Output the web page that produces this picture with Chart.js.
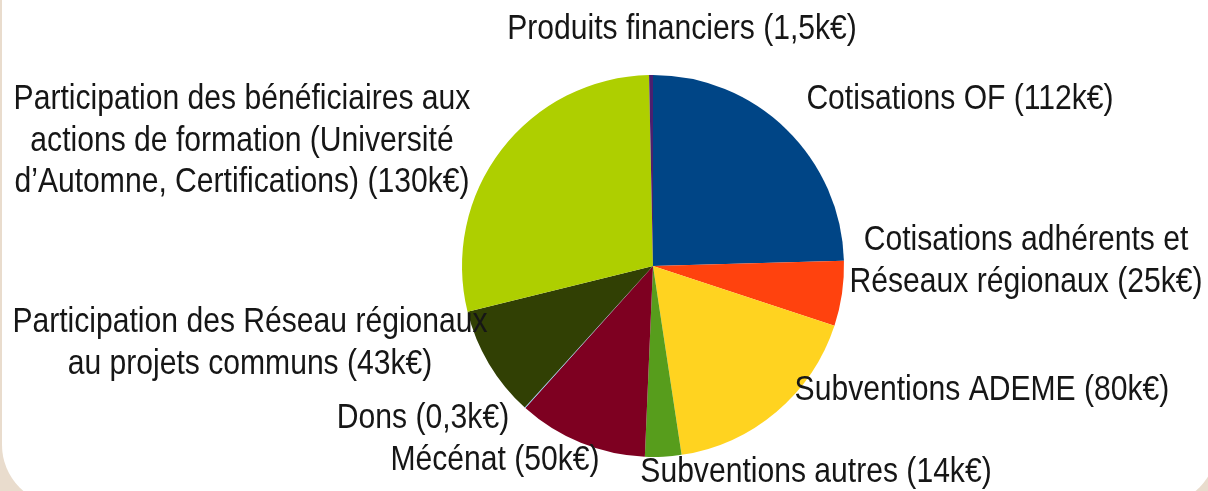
<!DOCTYPE html>
<html><head><meta charset="utf-8">
<script src="https://cdn.jsdelivr.net/npm/chart.js@4/dist/chart.umd.min.js"></script>
<style>
html,body{margin:0;padding:0;width:1208px;height:491px;overflow:hidden;background:#e9dccd;}
#bg{position:absolute;left:2px;top:-60px;width:1215px;height:565px;background:#fff;border-radius:60px;}
#wrap{position:absolute;left:0;top:0;width:1208px;height:491px;}
</style></head>
<body><div id="bg"></div><div id="wrap"><canvas id="c" width="1208" height="491"></canvas></div>
<script>
// ---- data ----
const categories = [
  ["Cotisations OF"],
  ["Cotisations adhérents et", "Réseaux régionaux"],
  ["Subventions ADEME"],
  ["Subventions autres"],
  ["Mécénat"],
  ["Dons"],
  ["Participation des Réseau régionaux", "au projets communs"],
  ["Participation des bénéficiaires aux", "actions de formation (Université", "d’Automne, Certifications)"],
  ["Produits financiers"]
];
const values = [112, 25, 80, 14, 50, 0.3, 43, 130, 1.5];
const unit = "k€";
const colors = ["#004586", "#ff420e", "#ffd320", "#579d1c", "#7e0021", "#83caff", "#314004", "#aecf00", "#4b1f6f"];

// ---- label layout (center x, first baseline y) ----
const labelLayout = [
  {x: 960, y: 109},
  {x: 1026, y: 250},
  {x: 982, y: 400},
  {x: 816, y: 482},
  {x: 495, y: 470},
  {x: 423, y: 428},
  {x: 250, y: 332},
  {x: 242, y: 109},
  {x: 682, y: 39}
];
const lineGap = 41.5;
const fontPx = 35;
const squeeze = 0.86;

function fmt(v){ return String(v).replace('.', ','); }

const labelPlugin = {
  id: 'sliceLabels',
  afterDraw(chart){
    const ctx = chart.ctx;
    ctx.save();
    ctx.font = fontPx + 'px "Liberation Sans", Arial, sans-serif';
    ctx.fillStyle = '#161616';
    ctx.textAlign = 'center';
    ctx.textBaseline = 'alphabetic';
    categories.forEach((lines, i) => {
      const L = labelLayout[i];
      const all = lines.slice();
      all[all.length-1] = all[all.length-1] + ' (' + fmt(values[i]) + unit + ')';
      all.forEach((t, k) => {
        ctx.save();
        ctx.translate(L.x, L.y + k*lineGap);
        ctx.scale(squeeze, 1);
        ctx.fillText(t, 0, 0);
        ctx.restore();
      });
    });
    ctx.restore();
  }
};

new Chart(document.getElementById('c'), {
  type: 'pie',
  data: {
    labels: categories,
    datasets: [{ data: values, backgroundColor: colors, borderWidth: 0 }]
  },
  options: {
    responsive: false,
    animation: false,
    layout: { padding: { left: 462, right: 364, top: 75, bottom: 34 } },
    plugins: { legend: { display: false }, tooltip: { enabled: false } }
  },
  plugins: [labelPlugin]
});
</script></body></html>
